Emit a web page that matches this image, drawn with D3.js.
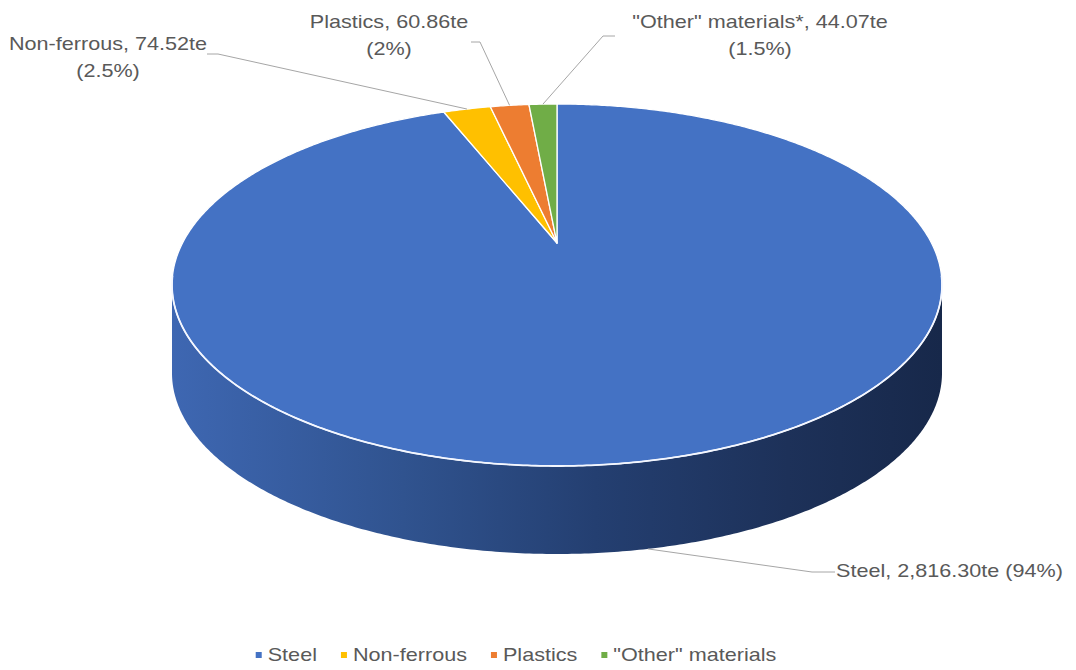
<!DOCTYPE html>
<html>
<head>
<meta charset="utf-8">
<script src="https://cdn.jsdelivr.net/npm/d3@7"></script>
<style>
  html, body { margin: 0; padding: 0; background: #fff; }
  svg { display: block; }
  text { font-family: "Liberation Sans", Arial, sans-serif; fill: #595959; }
</style>
</head>
<body>
<svg id="chart" width="1076" height="670"></svg>
<script>
// ---- data ----
const categories = ["Steel", "Non-ferrous", "Plastics", "\"Other\" materials"];
const values = [2816.30, 74.52, 60.86, 44.07];
const labelNames = ["Steel", "Non-ferrous", "Plastics", "\"Other\" materials*"];
const valueLabels = ["2,816.30te", "74.52te", "60.86te", "44.07te"];
const pctLabels = ["94%", "2.5%", "2%", "1.5%"];
const colors = ["#4472C4", "#FFC000", "#ED7D31", "#70AD47"];

// ---- layout ----
const W = 1076, H = 670;
const cx = 557, cy = 285, rx = 385, ry = 181, persp = 0.232, depth = 88;
const fontSize = 18, stretch = 1.2;
// label layout: [x, baseline1, twoLines, anchor, leaderPoints (tick start, tick end)]
const labelLayout = [
  { x: 836, y: 577, lines: 1, anchor: "start", tick: [[835, 572], [812, 572]] },
  { x: 108, y: 50, lines: 2, anchor: "middle", tick: [[207, 54], [218, 54]] },
  { x: 389, y: 28, lines: 2, anchor: "middle", tick: [[471, 42], [480, 42]] },
  { x: 760, y: 28, lines: 2, anchor: "middle", tick: [[615, 36], [603, 36]] }
];
const lineGap = 27;

const svg = d3.select("#chart");
const defs = svg.append("defs");

// projected point on the rim for angle theta (clockwise from 12 o'clock)
const a = rx * Math.sqrt(1 - persp * persp);
function proj(theta, dy = 0) {
  const u = Math.sin(theta), v = Math.cos(theta), w = 1 + persp * v;
  return [cx + a * u / w, cy - ry * (v + persp) / w + dy];
}
const apex = [cx, cy - ry * persp];

function rimPoints(t0, t1, dy = 0) {
  const n = Math.max(2, Math.ceil(Math.abs(t1 - t0) / (Math.PI / 360)));
  return d3.range(n + 1).map(i => proj(t0 + (t1 - t0) * i / n, dy));
}

const pie = d3.pie().sort(null).value(d => d).startAngle(0).endAngle(2 * Math.PI);
const arcs = pie(values);

// gradient for the visible wall
const grad = defs.append("linearGradient").attr("id", "wallSteel")
  .attr("gradientUnits", "userSpaceOnUse")
  .attr("x1", cx - rx).attr("x2", cx + rx).attr("y1", 0).attr("y2", 0);
[[0, "#3e67b2"], [0.3, "#30538f"], [0.55, "#243f71"], [0.8, "#1d3159"], [1, "#17284a"]]
  .forEach(([o, c]) => grad.append("stop").attr("offset", o).attr("stop-color", c));

// visible wall angular range (front half in screen)
const tRight = Math.acos(-persp), tLeft = 2 * Math.PI - Math.acos(-persp);

const wallG = svg.append("g");
arcs.forEach((d, i) => {
  const s = Math.max(d.startAngle, tRight), e = Math.min(d.endAngle, tLeft);
  if (e <= s) return;
  const top = rimPoints(s, e, 0);
  const bot = rimPoints(e, s, depth);
  const fill = i === 0 ? "url(#wallSteel)" : d3.color(colors[i]).darker(1.2);
  wallG.append("path")
    .attr("d", d3.line()(top.concat(bot)) + "Z")
    .attr("fill", fill);
});

// top face slices
const topG = svg.append("g");
arcs.forEach((d, i) => {
  const pts = [apex].concat(rimPoints(d.startAngle, d.endAngle, 0));
  topG.append("path")
    .attr("d", d3.line()(pts) + "Z")
    .attr("fill", colors[i])
    .attr("stroke", "#ffffff")
    .attr("stroke-width", 1.3)
    .attr("stroke-linejoin", "round");
});
// white highlight along the front rim
svg.append("path")
  .attr("d", d3.line()(rimPoints(tRight - 0.05, tLeft + 0.05, 0)))
  .attr("fill", "none").attr("stroke", "#f4f7ff").attr("stroke-width", 1.8);

// labels + leader lines
const labG = svg.append("g");
arcs.forEach((d, i) => {
  const L = labelLayout[i];
  const mid = (d.startAngle + d.endAngle) / 2;
  const end = i === 0 ? proj(mid, depth) : proj(mid, 0);
  labG.append("path")
    .attr("d", d3.line()([L.tick[0], L.tick[1], end]))
    .attr("fill", "none").attr("stroke", "#a6a6a6").attr("stroke-width", 1);
  const lines = L.lines === 1
    ? [`${labelNames[i]}, ${valueLabels[i]} (${pctLabels[i]})`]
    : [`${labelNames[i]}, ${valueLabels[i]}`, `(${pctLabels[i]})`];
  lines.forEach((t, j) => {
    labG.append("g")
      .attr("transform", `translate(${L.x},${L.y + j * lineGap}) scale(${stretch},1)`)
      .append("text")
      .attr("text-anchor", L.anchor)
      .attr("font-size", fontSize)
      .text(t);
  });
});

// legend
const legendY = 655, legendCenter = 516, markerSize = 6, markerGap = 6, itemGap = 24;
const legG = svg.append("g");
const items = categories.map((c, i) => {
  const g = legG.append("g");
  g.append("rect").attr("width", markerSize).attr("height", markerSize)
    .attr("y", -markerSize / 2).attr("fill", colors[i]);
  const tg = g.append("g").attr("transform", `translate(${markerSize + markerGap},0) scale(${stretch},1)`);
  const t = tg.append("text").attr("font-size", fontSize).attr("dy", "0.35em").text(c);
  const w = markerSize + markerGap + t.node().getComputedTextLength() * stretch;
  return { g, w };
});
const total = d3.sum(items, d => d.w) + itemGap * (items.length - 1);
let xpos = legendCenter - total / 2;
items.forEach(it => {
  it.g.attr("transform", `translate(${xpos},${legendY})`);
  xpos += it.w + itemGap;
});
</script>
</body>
</html>
